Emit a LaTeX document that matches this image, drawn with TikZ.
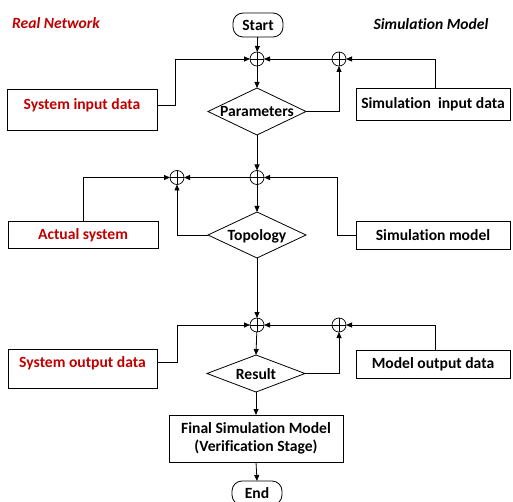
\documentclass[tikz,border=0pt]{standalone}
\usepackage{fontspec}
\setmainfont[Ligatures=NoCommon]{Carlito}
\usetikzlibrary{shapes.geometric,arrows.meta}
\definecolor{rednet}{RGB}{192,0,0}
\begin{document}
\begin{tikzpicture}[x=1pt,y=-1pt,
  font=\fontsize{15.6}{18}\selectfont\bfseries,
  every node/.style={inner sep=0pt, outer sep=0pt},
  box/.style={draw, line width=0.8pt, rectangle},
  term/.style={draw, line width=0.8pt, rounded corners=10pt, minimum width=50pt, minimum height=24pt},
  dia/.style={draw, line width=0.8pt, diamond, aspect=2, minimum width=98pt},
  sumnode/.style={draw, line width=0.7pt, circle, minimum size=14pt,
    path picture={\draw[line width=0.7pt] (path picture bounding box.north) -- (path picture bounding box.south)
      (path picture bounding box.west) -- (path picture bounding box.east);}},
  conn/.style={line width=0.8pt, -{Triangle[length=6pt,width=5pt]}},
  redtxt/.style={text=rednet},
]
\useasboundingbox (0,0) rectangle (513,502);
\begin{scope}
\clip (0,0) rectangle (513,502);
% titles
\node[redtxt, font=\fontsize{15.6}{18}\selectfont\bfseries\itshape] (tReal) at (56,23) {Real Network};
\node[font=\fontsize{15.6}{18}\selectfont\bfseries\itshape] (tSim) at (431,24) {Simulation Model};
% terminals
\node[term] (start) at (258,25) {Start};
\node[term] (end) at (257,493) {End};
% diamonds
\node[dia, minimum height=47pt] (par) at (257,111.5) {};
\node (parT) at (257,111.5) {Parameters};
\node[dia, minimum height=46pt] (top) at (257,235) {};
\node (topT) at (257,236) {Topology};
\node[dia, minimum height=37pt] (res) at (256,373.5) {};
\node (resT) at (256,374) {Result};
% sum nodes
\node[sumnode] (c1) at (257,59) {};
\node[sumnode] (c2) at (339,59) {};
\node[sumnode] (c3) at (257,177.5) {};
\node[sumnode] (c4) at (177,177.5) {};
\node[sumnode] (c5) at (257,325) {};
\node[sumnode] (c6) at (339,325) {};
% boxes
\node[box, minimum width=150pt, minimum height=41pt] (sin) at (82,109.5) {};
\node[redtxt] (sinT) at (82,105) {System input data};
\node[box, minimum width=154pt, minimum height=32pt] (simin) at (433,104) {Simulation\ \ input data};
\node[box, minimum width=150pt, minimum height=27pt] (act) at (83,234.5) {};
\node[redtxt] (actT) at (83,235) {Actual system};
\node[box, minimum width=154pt, minimum height=28pt] (simm) at (433,235) {Simulation model};
\node[box, minimum width=149pt, minimum height=39pt] (sout) at (82.5,368.5) {};
\node[redtxt] (soutT) at (82.5,363.5) {System output data};
\node[box, minimum width=154pt, minimum height=28pt] (mout) at (433,364) {Model output data};
\node[box, minimum width=174pt, minimum height=47pt, align=center] (final) at (256,438.5) {Final Simulation Model\\[0pt](Verification Stage)};
% helper coordinates
\coordinate (sinOut) at (157,105);
\coordinate (soutOut) at (157,362);
% connectors
\draw[conn] (start) -- (c1);
\draw[conn] (c1) -- (par.north);
\draw[conn] (sinOut) -| (175,59) -- (c1.west);
\draw[conn] (c2) -- (c1);
\draw[conn] (simin.north -| 435,0) |- (c2.east);
\draw[conn] (par.east) -| (c2.south);
\draw[conn] (par.south) -- (c3.north);
\draw[conn] (c3) -- (c4);
\draw[conn] (act.north -| 83,0) |- (c4.west);
\draw[conn] (c3) -- (top.north);
\draw[conn] (top.west) -| (c4.south);
\draw[conn] (simm.west) -- (337,235) |- (c3.east);
\draw[conn] (top.south) -- (c5.north);
\draw[conn] (soutOut) -| (177,325) -- (c5.west);
\draw[conn] (c6) -- (c5);
\draw[conn] (mout.north -| 435,0) |- (c6.east);
\draw[conn] (res.east) -| (c6.south);
\draw[conn] (c5) -- (res.north);
\draw[conn] (res.south) -- (final.north);
\draw[conn] (final.south) -- (end.north);
\end{scope}
\end{tikzpicture}
\end{document}
